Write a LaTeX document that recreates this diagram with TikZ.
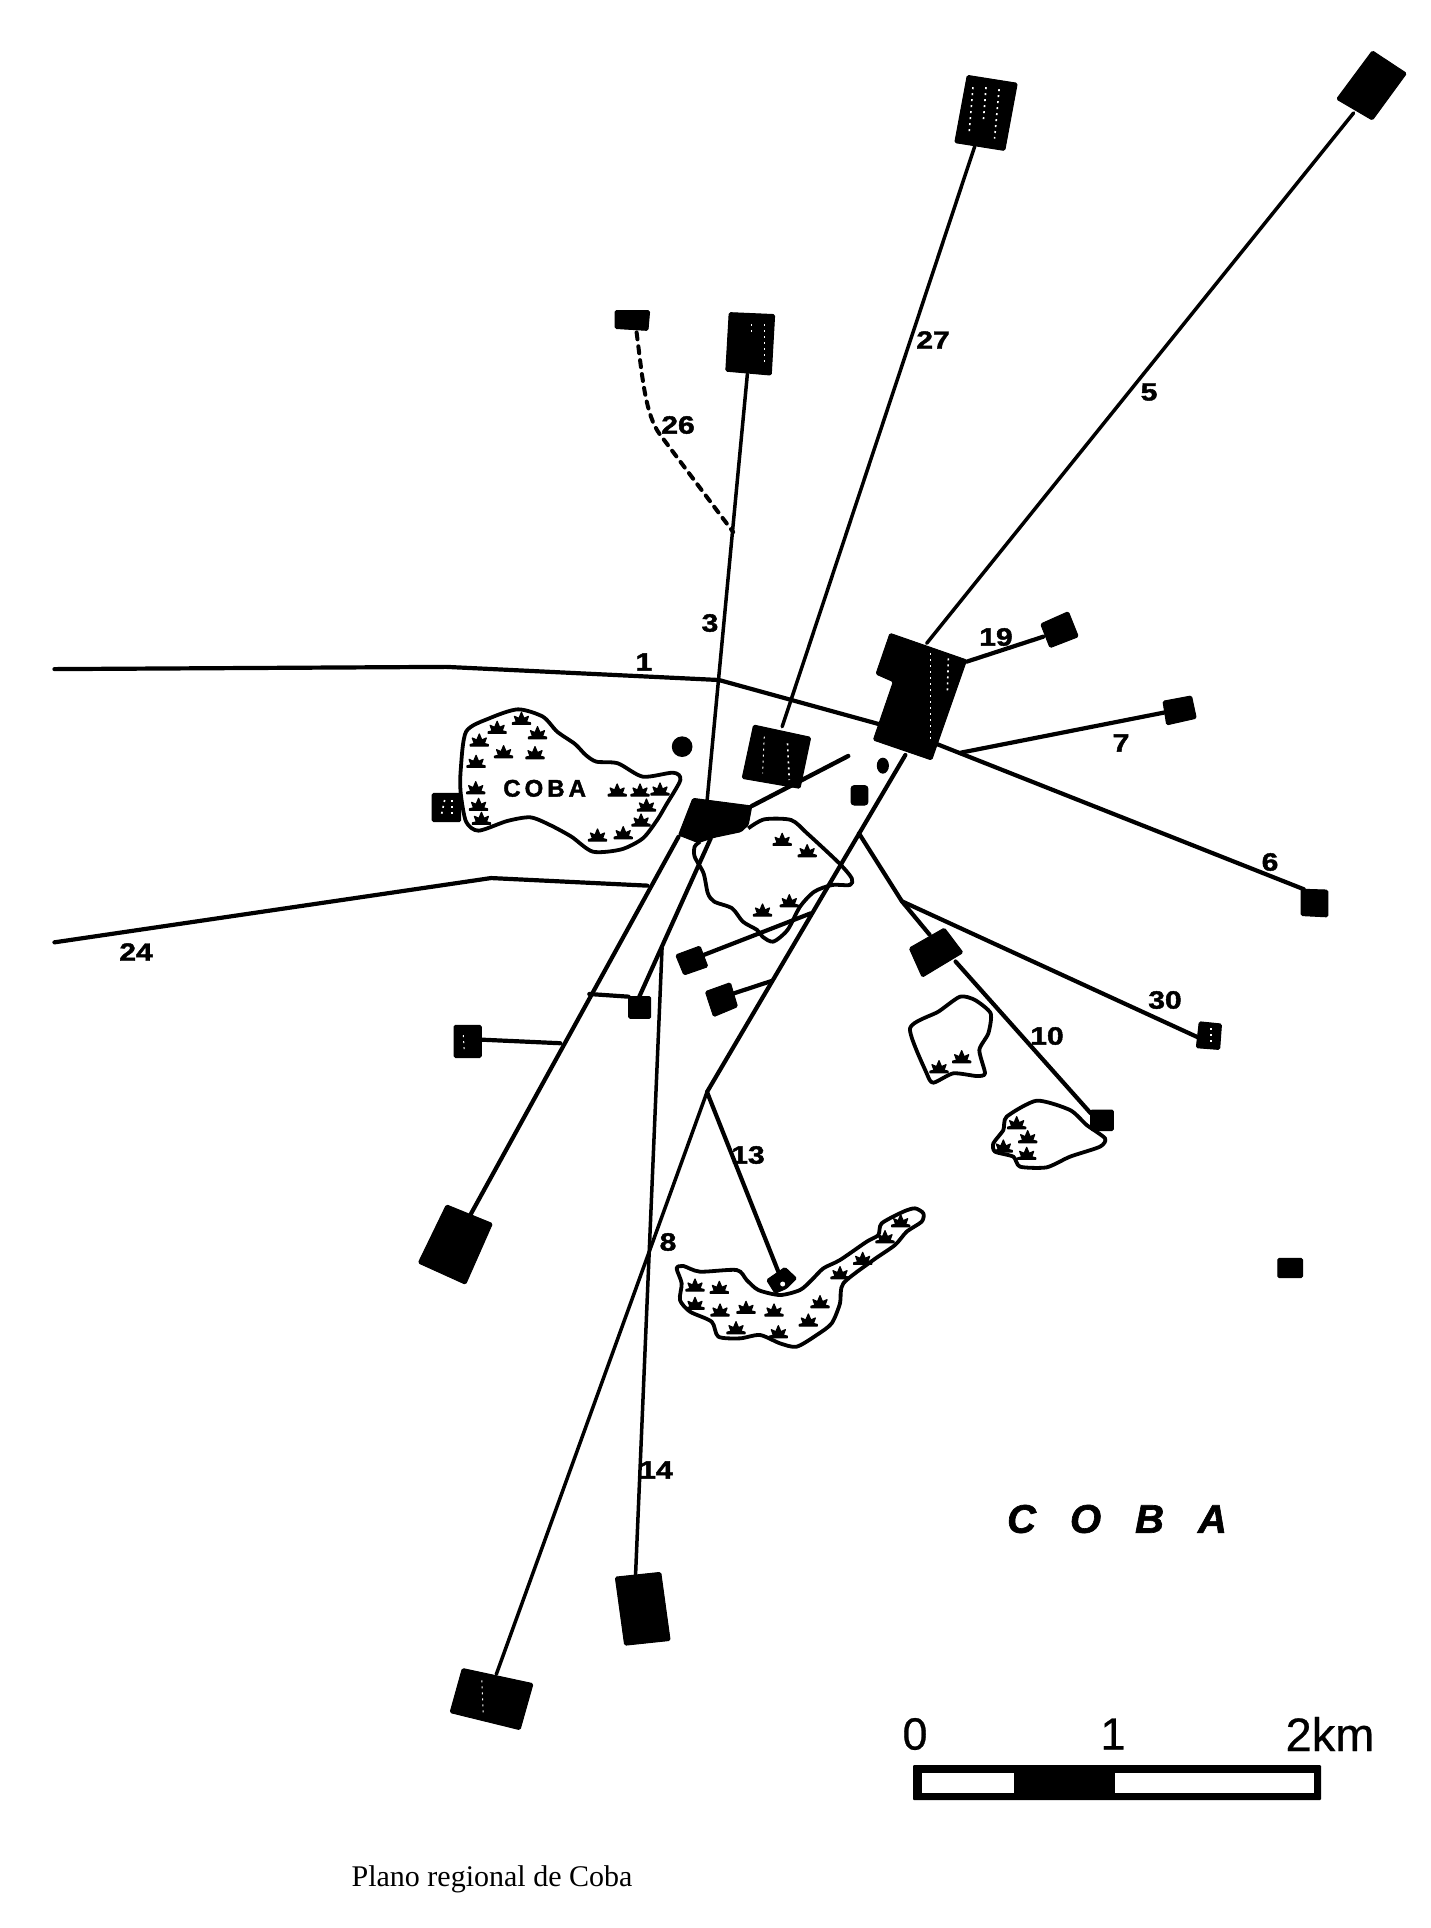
\documentclass[tikz,border=0pt]{standalone}
\usepackage{fontspec}
\setmainfont{Liberation Sans}
\newfontfamily\capfont{Liberation Serif}
\newfontfamily\numfont[FakeBold=1.6]{Liberation Sans Bold}
\newfontfamily\itfont[FakeBold=1.6]{Liberation Sans Bold Italic}
\newfontfamily\scalefont[FakeBold=0.6]{Liberation Sans}
\tikzset{
 z1/.style={shift={(400pt,-620pt)},x=0.35714pt,y=-0.33333pt},
 z2/.style={shift={(640pt,-1180pt)},x=0.33333pt,y=-0.33333pt},
 z3/.style={shift={(860pt,-940pt)},x=0.33333pt,y=-0.33333pt},
 z4/.style={shift={(860pt,-600pt)},x=0.33333pt,y=-0.33333pt},
 z5/.style={shift={(540pt,-20pt)},x=0.56818pt,y=-0.39541pt},
 z6/.style={shift={(0pt,-620pt)},x=0.44643pt,y=-0.44643pt},
 z7/.style={shift={(850pt,-620pt)},x=0.37037pt,y=-0.44643pt},
 z8/.style={shift={(300pt,-1300pt)},x=0.72150pt,y=-0.40048pt},
 road/.style={draw=black,line width=4.2pt,line cap=round,line join=round},
 thinroad/.style={road,line width=3.5pt},
 trail/.style={draw=black,line width=4pt,dash pattern=on 7pt off 7pt,line cap=round},
 site/.style={fill=black,draw=black,line width=1pt,line join=round,rounded corners=1.5pt},
 shore/.style={draw=black,line width=3.8pt,line join=round,fill=white},
 shoreopen/.style={draw=black,line width=3.8pt,line join=round},
 speck/.style={draw=white,line width=1pt,dash pattern=on 2pt off 4pt},
 num/.style={font=\numfont\fontsize{25}{25}\selectfont,inner sep=0pt,xscale=1.2,transform shape},
 tuft/.pic={\filldraw[x=1pt,y=1pt,line width=1.2pt,line join=round] (-9,-6)--(9,-6)--(9,-4.5)--(5,-3.5)--(7,2)--(2.5,0)--(0,6)--(-2.5,0)--(-7,2)--(-5,-3.5)--(-9,-4.5)--cycle;}
}
\begin{document}
\begin{tikzpicture}[x=1pt,y=-1pt]
\useasboundingbox[fill=white] (0,0) rectangle (1431,1928);

% ---- named points on the roads
\begin{scope}[z6]
 \coordinate (oneW) at (122,110);
 \coordinate (oneBend) at (1000,105);
 \coordinate (tfW) at (122,722);
 \coordinate (tfBend) at (1100,578);
 \coordinate (tfE) at (1450,595);
 \coordinate (swEnd) at (1055,1330);
 \coordinate (leftBoxE) at (1078,940);
 \coordinate (leftRoadJ) at (1255,948);
 \coordinate (fourteenTop) at (1483,735);
\end{scope}
\begin{scope}[z1]
 \coordinate (oneJ) at (893,180);
 \coordinate (oneE) at (1340,312);
 \coordinate (threeS) at (860,540);
 \coordinate (tsS) at (1070,320);
 \coordinate (plazaE) at (985,558);
 \coordinate (plazaSpur) at (1255,408);
 \coordinate (plazaSW) at (780,650);
 \coordinate (plazaS) at (870,655);
 \coordinate (smallSqN) at (670,1130);
 \coordinate (smallSqW) at (640,1130);
 \coordinate (swJ) at (530,1122);
 \coordinate (eightN) at (1415,405);
 \coordinate (lagA) at (850,1005);
 \coordinate (lagAJ) at (1150,880);
 \coordinate (lagB) at (935,1120);
 \coordinate (lagBJ) at (1040,1083);
 \coordinate (branchJ) at (1285,640);
\end{scope}
\begin{scope}[z7]
 \coordinate (branchBend) at (140,630);
 \coordinate (thirtyE) at (940,935);
 \coordinate (tenBoxN) at (215,705);
 \coordinate (tenBoxS) at (285,765);
 \coordinate (tenE) at (650,1105);
 \coordinate (sixW) at (235,278);
 \coordinate (sixE) at (1225,603);
 \coordinate (sevenW) at (300,297);
 \coordinate (sevenE) at (850,207);
\end{scope}
\begin{scope}[z4]
 \coordinate (nineteenW) at (320,185);
 \coordinate (nineteenE) at (550,110);
 \coordinate (fiveS) at (200,130);
\end{scope}
\begin{scope}[z5]
 \coordinate (fiveN) at (1432,235);
 \coordinate (tsN) at (765,320);
 \coordinate (threeN) at (365,895);
 \coordinate (trailN) at (170,790);
 \coordinate (trailA) at (180,900);
 \coordinate (trailB) at (185,1000);
 \coordinate (trailC) at (212,1050);
 \coordinate (trailS) at (340,1295);
\end{scope}
\coordinate (eightJ) at (707,1092);
\begin{scope}[z8]
 \coordinate (eightS) at (272,935);
 \coordinate (fourteenS) at (465,690);
\end{scope}
\begin{scope}[z2]
 \coordinate (thirteenS) at (415,275);
\end{scope}

% ---- roads
\draw[road] (oneW) -- (oneBend) -- (oneJ) -- (oneE);
\draw[road] (tfW) -- (tfBend) -- (tfE);
\draw[thinroad] (threeN) -- (threeS);
\draw[thinroad] (tsN) -- (tsS);
\draw[thinroad] (fiveN) -- (fiveS);
\draw[road,line width=4.4pt] (plazaE) -- (plazaSpur);
\draw[road] (plazaSW) -- (swEnd);
\draw[road] (plazaS) -- (smallSqN);
\draw[road] (swJ) -- (smallSqW);
\draw[road] (leftBoxE) -- (leftRoadJ);
\draw[thinroad] (fourteenTop) -- (fourteenS);
\draw[road] (eightN) -- (eightJ);
\draw[thinroad] (eightJ) -- (eightS);
\draw[road] (eightJ) -- (thirteenS);
\draw[road] (lagA) -- (lagAJ);
\draw[road] (lagB) -- (lagBJ);
\draw[road] (branchJ) -- (branchBend) -- (thirtyE);
\draw[road] (branchBend) -- (tenBoxN);
\draw[road] (tenBoxS) -- (tenE);
\draw[road] (sixW) -- (sixE);
\draw[road] (sevenW) -- (sevenE);
\draw[road] (nineteenW) -- (nineteenE);
\draw[trail] (trailN) .. controls (trailA) and (trailB) .. (trailC) -- (trailS);

% ---- lakes
\begin{scope}[z1]
 \draw[shore] plot[smooth cycle,tension=0.45] coordinates {(330,268)(400,290)(440,335)(490,372)(520,405)(550,425)(610,430)(680,470)(765,458)(785,480)(745,555)(720,600)(680,655)(620,688)(540,695)(480,650)(420,615)(365,592)(300,603)(220,632)(185,605)(170,520)(170,450)(185,335)(250,295)};
 \foreach \p in {(222,360),(272,322),(340,295),(385,338),(290,395),(378,398),(213,424),(212,503),(220,553),(228,595),(608,510),(672,510),(728,507),(690,555),(675,600),(553,645),(625,638)} \pic at \p {tuft};
 \node[inner sep=0pt,font=\numfont\fontsize{24}{24}\selectfont] (cobaLake) at (405,505) {C\kern4pt O\kern4pt B\kern4pt A};
 \draw[shoreopen] plot[smooth,tension=0.45] coordinates {(975,625)(1020,598)(1095,600)(1140,640)(1230,730)(1265,775)(1260,795)(1210,795)(1160,815)(1120,860)(1085,930)(1045,965)(1015,950)(1000,930)(960,905)(930,865)(880,845)(862,820)(850,760)(825,710)(825,680)(840,665)};
 \foreach \p in {(1070,658),(1140,692),(1015,870),(1090,842)} \pic at \p {tuft};
\end{scope}
\begin{scope}[z2]
 \draw[shore] plot[smooth cycle,tension=0.45] coordinates {(110,265)(130,258)(180,275)(290,270)(320,300)(355,330)(420,345)(480,330)(515,300)(550,265)(600,240)(680,185)(715,165)(725,130)(790,95)(825,85)(850,100)(845,125)(800,155)(765,195)(700,240)(610,310)(600,370)(575,430)(530,465)(470,500)(420,490)(360,465)(300,475)(235,470)(215,425)(150,395)(120,360)(125,310)};
 \foreach \p in {(165,315),(165,370),(238,322),(240,390),(318,382),(402,390),(288,443),(415,455),(505,420),(540,365),(600,278),(668,235),(735,170),(782,122)} \pic at \p {tuft};
 \fill[site] (380,300)--(435,262)--(470,295)--(440,325)--(405,340)--cycle;
 \fill[white] (428,312) circle (2.5pt);
\end{scope}
\begin{scope}[z3]
 \draw[shore] plot[smooth cycle,tension=0.4] coordinates {(150,265)(235,215)(300,170)(345,180)(392,220)(385,280)(358,330)(375,400)(350,408)(280,400)(220,428)(200,400)};
 \foreach \p in {(237,380),(305,350)} \pic at \p {tuft};
 \draw[shore] plot[smooth cycle,tension=0.4] coordinates {(530,482)(630,510)(680,555)(735,595)(720,620)(630,650)(560,682)(480,680)(460,650)(405,635)(400,610)(430,570)(440,530)};
 \foreach \p in {(470,548),(503,590),(430,618),(500,640)} \pic at \p {tuft};
 \fill[site] (692,510)--(760,510)--(760,572)--(692,572)--cycle;
\end{scope}

% ---- sites
\begin{scope}[z1]
 \fill[site] (820,535)--(985,558)--(975,615)--(955,635)--(880,652)--(835,668)--(780,645)--cycle;
 \fill[site] (990,315)--(1150,352)--(1120,505)--(958,475)--cycle;
 \draw[speck] (1020,350)--(1015,460);
 \draw[speck,line width=1.6pt] (1085,370)--(1090,480);
 \fill[site] (90,520)--(170,520)--(170,605)--(90,605)--cycle;
 \draw[speck,line width=1.6pt] (125,540)--(115,590);
 \draw[speck,line width=1.6pt] (145,540)--(145,585);
 \fill[site] (772,1005)--(840,978)--(862,1040)--(795,1065)--cycle;
 \fill[site] (855,1115)--(925,1088)--(945,1160)--(878,1190)--cycle;
 \fill[site] (640,1130)--(702,1130)--(702,1195)--(640,1195)--cycle;
 \fill[site,rounded corners=3pt] (1263,497)--(1310,497)--(1310,555)--(1263,555)--cycle;
 \fill (790,380) ellipse[x radius=29,y radius=31];
 \fill (1352,437) ellipse[x radius=17,y radius=24];
\end{scope}
\begin{scope}[z4]
 \fill[site] (90,100)--(320,180)--(215,480)--(40,420)--(100,245)--(48,222)--cycle;
 \draw[speck] (212,160)--(212,430);
 \draw[speck,line width=1.6pt] (265,175)--(262,280);
 \fill[site] (542,72)--(625,35)--(655,110)--(570,143)--cycle;
\end{scope}
\begin{scope}[z5]
 \fill[site] (1465,78)--(1525,135)--(1465,253)--(1402,200)--cycle;
 \fill[site] (752,140)--(840,160)--(818,330)--(730,310)--cycle;
 \draw[speck,line width=1.6pt] (762,170)--(755,290);
 \draw[speck,line width=1.6pt] (785,170)--(780,260);
 \draw[speck,line width=1.6pt] (808,175)--(800,300);
 \fill[site] (333,740)--(413,745)--(407,898)--(327,888)--cycle;
 \draw[speck] (372,770)--(372,790);
 \draw[speck,line width=1.6pt] (395,770)--(395,870);
 \fill[site] (132,735)--(193,735)--(190,785)--(132,780)--cycle;
\end{scope}
\begin{scope}[z6]
 \fill[site] (1000,1310)--(1103,1352)--(1043,1488)--(937,1440)--cycle;
 \fill[site] (1017,908)--(1078,908)--(1078,980)--(1017,980)--cycle;
 \draw[speck] (1038,930)--(1040,970);
\end{scope}
\begin{scope}[z7]
 \fill[site] (160,735)--(255,690)--(305,745)--(195,800)--cycle;
 \fill[site] (943,900)--(1003,905)--(998,962)--(935,958)--cycle;
 \draw[speck,line width=1.4pt] (975,915)--(975,950);
 \fill[site] (1218,603)--(1290,605)--(1290,665)--(1218,662)--cycle;
 \fill[site] (845,182)--(922,170)--(935,220)--(855,235)--cycle;
 \fill[site] (1155,1430)--(1222,1430)--(1222,1473)--(1155,1473)--cycle;
\end{scope}
\begin{scope}[z8]
 \fill[site] (225,920)--(323,958)--(305,1073)--(208,1030)--cycle;
 \draw[speck] (252,950)--(254,1035);
 \fill[site] (437,692)--(500,680)--(513,850)--(450,862)--cycle;
\end{scope}

% ---- road numbers
\node[num] (n1) at (644,662) {1};
\node[num] (n3) at (710,623) {3};
\node[num] (n26) at (678,425) {26};
\node[num] (n27) at (933,340) {27};
\node[num] (n5) at (1149,392) {5};
\node[num] (n19) at (996,637) {19};
\node[num] (n7) at (1121,743) {7};
\node[num] (n6) at (1270,862) {6};
\node[num] (n30) at (1165,1000) {30};
\node[num] (n10) at (1047,1036) {10};
\node[num] (n13) at (748,1155) {13};
\node[num] (n8) at (668,1242) {8};
\node[num] (n14) at (656,1470) {14};
\node[num] (n24) at (136,952) {24};

% ---- title, scale, caption
\node[inner sep=0pt,font=\itfont\fontsize{40}{40}\selectfont] (title) at (1117,1519) {C\kern34pt O\kern34pt B\kern34pt A};
\fill[rounded corners=1pt] (913,1765) rectangle (1321,1800);
\fill[white] (922,1773) rectangle (1014,1793);
\fill[white] (1115,1773) rectangle (1314,1793);
\node[inner sep=0pt,font=\scalefont\fontsize{45}{45}\selectfont] (s0) at (915,1734) {0};
\node[inner sep=0pt,font=\scalefont\fontsize{45}{45}\selectfont] (s1) at (1113,1734) {1};
\node[inner sep=0pt,font=\scalefont\fontsize{47}{47}\selectfont] (s2) at (1330,1734) {2km};
\node[inner sep=0pt,font=\capfont\fontsize{30}{30}\selectfont] (caption) at (492,1879) {Plano regional de Coba};
\end{tikzpicture}
\end{document}
